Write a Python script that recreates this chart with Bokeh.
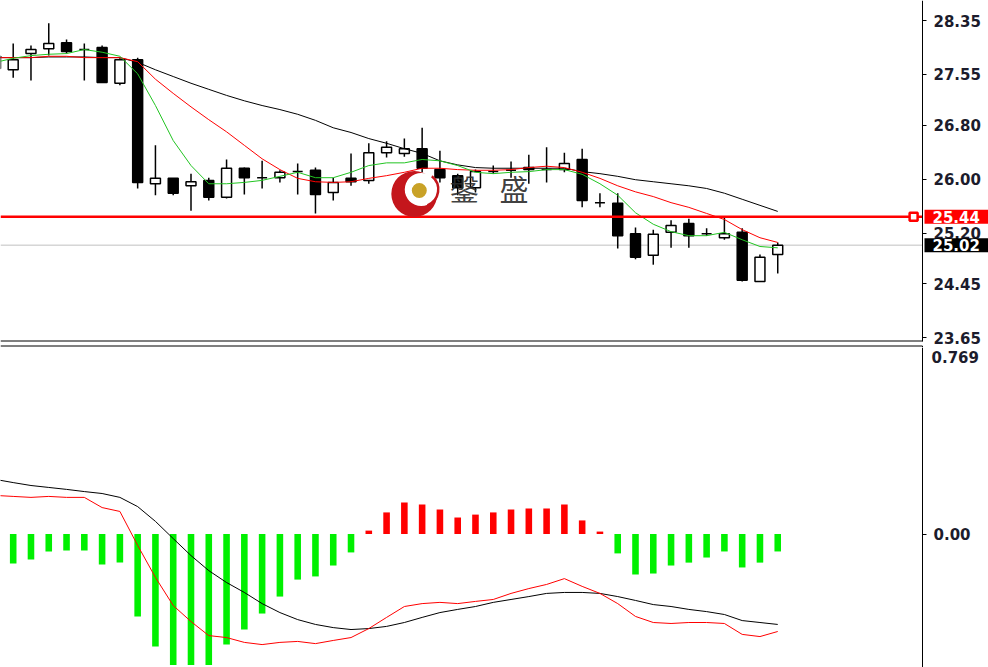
from bokeh.plotting import figure
from bokeh.layouts import column
from bokeh.models import (ColumnDataSource, Range1d, LinearAxis, FixedTicker,
                          PrintfTickFormatter, Label)
from bokeh.embed import file_html
from bokeh.resources import INLINE

# ---- price bars (bar index, OHLC) ----
bars = list(range(-1, 44))
opens = [27.64, 27.62, 27.86, 27.93, 28.02, 27.92, 27.95, 27.42, 27.77, 25.93,
         26.01, 25.90, 25.98, 25.73, 26.16, 26.02, 26.02, 26.11, 26.13, 25.80,
         26.01, 25.98, 26.39, 26.38, 26.45, 26.14, 26.05, 25.87, 26.11, 26.13,
         26.17, 26.14, 26.14, 26.29, 25.65, 25.64, 25.19, 24.87, 25.21, 25.34,
         25.19, 25.13, 25.21, 24.48, 24.88]
highs = [27.88, 28.01, 27.98, 28.31, 28.07, 28.01, 27.98, 27.79, 27.80, 26.50,
         26.01, 26.08, 26.02, 26.29, 26.17, 26.27, 26.13, 26.23, 26.17, 26.02,
         26.38, 26.53, 26.56, 26.60, 26.76, 26.42, 26.08, 26.14, 26.20, 26.26,
         26.36, 26.47, 26.39, 26.45, 25.79, 25.79, 25.28, 25.25, 25.39, 25.41,
         25.27, 25.43, 25.27, 24.88, 25.06]
lows = [27.58, 27.50, 27.46, 27.83, 27.86, 27.46, 27.43, 27.39, 25.86, 25.76,
        25.76, 25.53, 25.68, 25.71, 25.77, 25.86, 25.95, 25.77, 25.49, 25.68,
        25.90, 25.93, 26.32, 26.33, 26.10, 25.95, 25.76, 25.80, 26.08, 26.02,
        25.93, 25.95, 26.10, 25.58, 25.58, 24.97, 24.81, 24.73, 24.98, 24.98,
        25.16, 25.10, 24.48, 24.48, 24.60]
closes = [27.82, 27.77, 27.92, 28.01, 27.89, 27.92, 27.43, 27.77, 25.95, 26.01,
          25.79, 25.96, 25.73, 26.16, 26.02, 26.02, 26.10, 26.11, 25.77, 25.95,
          25.96, 26.39, 26.47, 26.45, 26.16, 26.02, 25.87, 26.11, 26.11, 26.13,
          26.14, 26.14, 26.23, 25.68, 25.65, 25.16, 24.84, 25.18, 25.31, 25.16,
          25.19, 25.19, 24.50, 24.84, 25.02]

# moving averages on price
ma_fast = [27.73, 27.79, 27.83, 27.85, 27.86, 27.92, 27.88, 27.82, 27.56, 27.09,
           26.57, 26.20, 25.93, 25.93, 25.95, 25.98, 26.04, 26.10, 26.02, 26.02,
           26.10, 26.20, 26.24, 26.24, 26.29, 26.27, 26.20, 26.10, 26.08, 26.10,
           26.11, 26.14, 26.14, 26.07, 25.93, 25.76, 25.50, 25.33, 25.22, 25.16,
           25.16, 25.21, 25.10, 25.00, 24.98]
ma_mid = [27.80, 27.80, 27.80, 27.82, 27.82, 27.80, 27.80, 27.80, 27.74, 27.48,
          27.27, 27.07, 26.88, 26.70, 26.50, 26.30, 26.14, 26.01, 25.96, 25.95,
          25.96, 26.01, 26.05, 26.10, 26.16, 26.16, 26.14, 26.13, 26.13, 26.14,
          26.17, 26.19, 26.17, 26.10, 26.01, 25.90, 25.81, 25.74, 25.65, 25.58,
          25.49, 25.40, 25.25, 25.13, 25.06]
ma_slow = [27.80, 27.80, 27.80, 27.81, 27.81, 27.81, 27.80, 27.80, 27.73, 27.62,
           27.52, 27.42, 27.33, 27.24, 27.16, 27.09, 27.03, 26.96, 26.87, 26.76,
           26.69, 26.60, 26.53, 26.45, 26.38, 26.27, 26.21, 26.17, 26.16, 26.16,
           26.16, 26.16, 26.16, 26.11, 26.08, 26.04, 25.99, 25.96, 25.93, 25.90,
           25.86, 25.79, 25.70, 25.61, 25.52]

price_ticks = [28.35, 27.55, 26.80, 26.00, 25.20, 24.45, 23.65]
alert_level = 25.44
last_price = 25.02

# ---- MACD panel ----
hist_bars = list(range(0, 44))
macd_hist = [-0.122, -0.105, -0.072, -0.068, -0.068, -0.126, -0.118, -0.340, -0.464, -0.54,
             -0.54, -0.54, -0.456, -0.394, -0.328, -0.258, -0.188, -0.175, -0.130, -0.076,
             0.014, 0.089, 0.130, 0.122, 0.101, 0.068, 0.080, 0.089, 0.101, 0.105,
             0.105, 0.122, 0.056, 0.010, -0.080, -0.167, -0.163, -0.130, -0.118, -0.097,
             -0.072, -0.138, -0.118, -0.072]
macd_main = [0.159, 0.155, 0.151, 0.155, 0.151, 0.151, 0.109, 0.093, -0.047, -0.179,
             -0.295, -0.361, -0.419, -0.427, -0.447, -0.456, -0.447, -0.443, -0.452, -0.439,
             -0.427, -0.390, -0.344, -0.299, -0.287, -0.282, -0.287, -0.278, -0.270, -0.245,
             -0.225, -0.208, -0.184, -0.216, -0.245, -0.287, -0.340, -0.365, -0.369, -0.365,
             -0.365, -0.369, -0.414, -0.423, -0.402]
macd_signal = [0.225, 0.212, 0.200, 0.192, 0.184, 0.175, 0.167, 0.151, 0.113, 0.052,
               -0.019, -0.089, -0.151, -0.200, -0.241, -0.287, -0.324, -0.353, -0.373, -0.386,
               -0.394, -0.390, -0.381, -0.365, -0.344, -0.324, -0.311, -0.299, -0.282, -0.270,
               -0.258, -0.245, -0.241, -0.241, -0.245, -0.258, -0.274, -0.291, -0.299, -0.311,
               -0.320, -0.332, -0.357, -0.365, -0.373]
macd_ticks = [0.0]
macd_top_text = "0.769"

# ---- layout constants ----
BAR_PX = 17.78          # pixels per bar
FIRST_BAR_PX = 12.7     # screen x of bar 0
SCALE_PX = 922          # screen x of the price scale line
WIDTH = 988
TOP_H, BOT_H = 347, 320
SEP1_PX, SEP2_PX = 340.5, 345.5   # double separator between the two panels
PRICE_PX = 67.45        # pixels per price unit
PRICE_TOP = 28.647      # price at the top edge
MACD_PX = 242.5         # pixels per MACD unit
MACD_ZERO_PX = 186.5    # zero line, pixels below the MACD panel top

x_start = -FIRST_BAR_PX / BAR_PX
x_end = (WIDTH - FIRST_BAR_PX) / BAR_PX
axis_x = (SCALE_PX - FIRST_BAR_PX) / BAR_PX

AXIS_FONT = "DejaVu Sans"
AXIS_SIZE = "15px"
AXIS_COLOR = "#1c1c2c"


def price_scale(ticks, bounds="auto"):
    return LinearAxis(fixed_location=axis_x, ticker=FixedTicker(ticks=ticks), bounds=bounds,
                      formatter=PrintfTickFormatter(format="%.2f"),
                      major_tick_out=4, major_tick_in=0, minor_tick_out=0, minor_tick_in=0,
                      major_tick_line_color="black", axis_line_color="black",
                      major_label_standoff=7, major_label_text_font=AXIS_FONT,
                      major_label_text_font_size=AXIS_SIZE,
                      major_label_text_font_style="bold",
                      major_label_text_color=AXIS_COLOR)


def flag(y, text, fill):
    return Label(x=axis_x, y=y, x_offset=2, text=text, text_color="white",
                 text_font=AXIS_FONT, text_font_size=AXIS_SIZE, text_font_style="bold",
                 text_baseline="middle", background_fill_color=fill,
                 padding=dict(top=1, right=14, bottom=1, left=8))


def price_at(px):
    return PRICE_TOP - px / PRICE_PX


# ================= price panel =================
top = figure(width=WIDTH, height=TOP_H, output_backend="svg", toolbar_location=None,
             x_range=Range1d(x_start, x_end), y_range=Range1d(price_at(TOP_H), PRICE_TOP),
             x_axis_location=None, y_axis_location=None,
             min_border_left=0, min_border_right=0, min_border_top=0, min_border_bottom=0,
             outline_line_color=None, background_fill_color="white", border_fill_color="white")
top.grid.visible = False
top.add_layout(price_scale(price_ticks, bounds=(price_at(SEP1_PX), PRICE_TOP)), "right")

# double separator line between the panels
for sep in (SEP1_PX, SEP2_PX):
    top.segment([x_start], [price_at(sep)], [axis_x], [price_at(sep)],
                line_color="black", line_width=1)
top.segment([axis_x], [price_at(SEP2_PX)], [axis_x], [price_at(TOP_H)],
            line_color="black", line_width=1)

top.segment([x_start], [last_price], [axis_x], [last_price], line_color="#c0c0c0", line_width=1)

bull = [c >= o for o, c in zip(opens, closes)]
candles = ColumnDataSource(dict(
    x=bars, high=highs, low=lows,
    top=[max(o, c) for o, c in zip(opens, closes)],
    bottom=[min(o, c) for o, c in zip(opens, closes)],
    fill=["white" if b else "black" for b in bull],
))
top.segment(x0="x", y0="high", x1="x", y1="low", source=candles, line_color="black", line_width=1.5)
top.vbar(x="x", top="top", bottom="bottom", width=0.56, source=candles,
         fill_color="fill", line_color="black", line_width=1.5)

top.line(bars, ma_slow, line_color="black", line_width=1)
top.line(bars, ma_mid, line_color="#ff0000", line_width=1)
top.line(bars, ma_fast, line_color="#22c422", line_width=1)

# alert line with its handle
top.segment([x_start], [alert_level], [axis_x], [alert_level], line_color="#ff0000", line_width=2.5)
top.scatter([axis_x - 0.5], [alert_level], marker="square", size=8, fill_color="white",
            line_color="#ff0000", line_width=2.5)

# watermark logo
top.scatter([22.56], [25.78], marker="circle", size=46, fill_color="#c4161c", line_color=None)
top.scatter([22.95], [25.845], marker="circle", size=33, fill_color="white", line_color=None)
top.arc([22.95], [25.845], radius=17, radius_units="screen", start_angle=-1.2, end_angle=0.9,
        line_color="#c4161c", line_width=2.5)
top.scatter([22.84], [25.83], marker="circle", size=15, fill_color="#c9a227", line_color=None)
for gx, ch in [(24.55, "鎜"), (27.35, "盛")]:
    top.add_layout(Label(x=gx, y=25.86, text=ch, text_font="Noto Sans CJK SC",
                         text_font_size="29px", text_color="#2e2e2e", text_alpha=0.92,
                         text_baseline="middle"))

# price flags on the scale
top.add_layout(flag(alert_level, "25.44", "#ff0000"))
top.add_layout(flag(last_price, "25.02", "black"))

# ================= MACD panel =================
m_hi = MACD_ZERO_PX / MACD_PX
m_lo = -(BOT_H - MACD_ZERO_PX) / MACD_PX
bot = figure(width=WIDTH, height=BOT_H, output_backend="svg", toolbar_location=None,
             x_range=top.x_range, y_range=Range1d(m_lo, m_hi),
             x_axis_location=None, y_axis_location=None,
             min_border_left=0, min_border_right=0, min_border_top=0, min_border_bottom=0,
             outline_line_color=None, background_fill_color="white", border_fill_color="white")
bot.grid.visible = False
bot.add_layout(price_scale(macd_ticks), "right")

hist_src = ColumnDataSource(dict(
    x=hist_bars, v=macd_hist,
    color=["#ff0000" if v > 0 else "#00f000" for v in macd_hist],
))
bot.vbar(x="x", top="v", bottom=0, width=0.37, source=hist_src, fill_color="color", line_color=None)
bot.line(bars, macd_signal, line_color="black", line_width=1)
bot.line(bars, macd_main, line_color="#ff0000", line_width=1)

bot.add_layout(Label(x=axis_x, y=m_hi - 9 / MACD_PX, x_offset=9, text=macd_top_text,
                     text_font=AXIS_FONT, text_font_size=AXIS_SIZE, text_font_style="bold",
                     text_color=AXIS_COLOR, text_baseline="middle"))

layout = column(top, bot, spacing=0)
open("out.html", "w").write(file_html(layout, INLINE))
